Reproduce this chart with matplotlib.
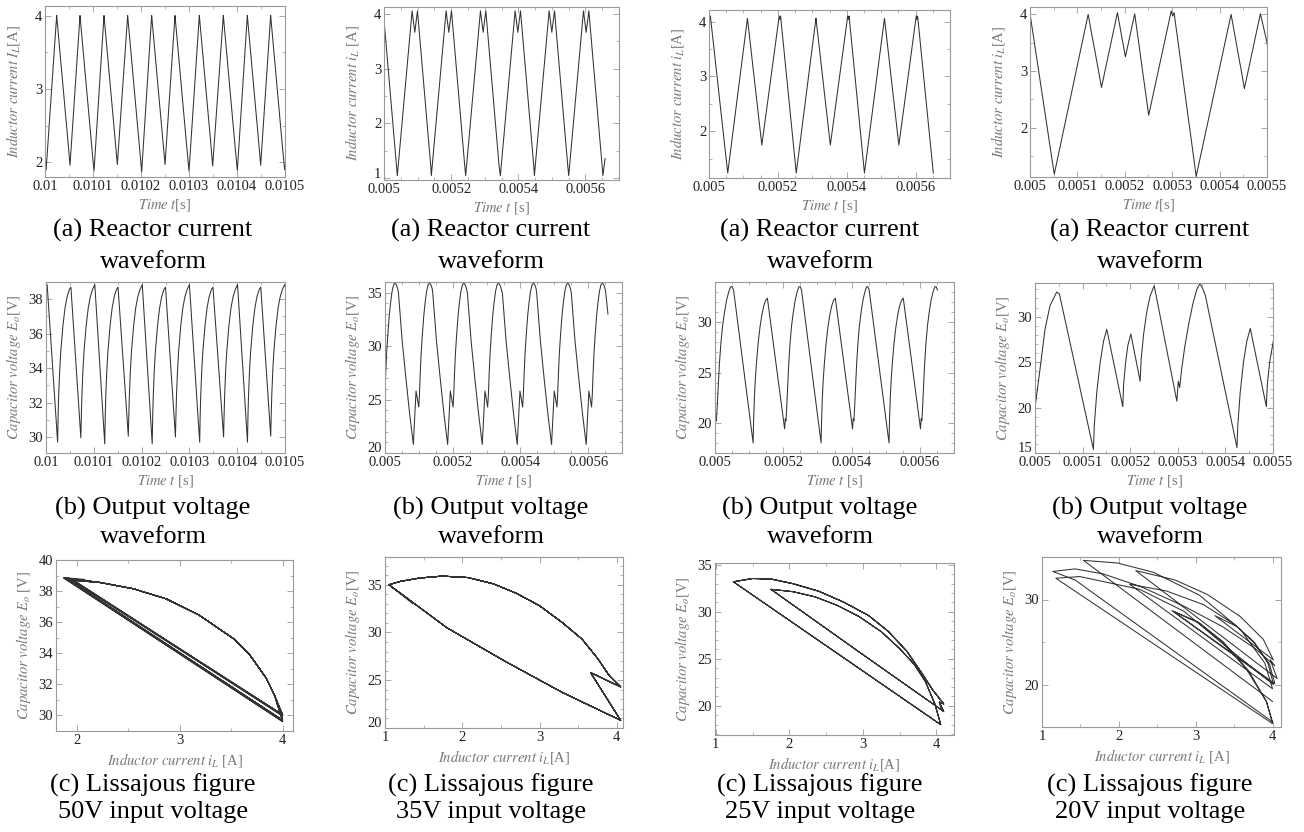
import numpy as np
import matplotlib.pyplot as plt
from matplotlib.ticker import MultipleLocator, FormatStrFormatter
from matplotlib.transforms import ScaledTranslation

plt.rcParams['font.family'] = 'Liberation Serif'
plt.rcParams['mathtext.fontset'] = 'stix'

# ---------- 50V input: time in us after 0.01 s ----------
c1_t0 = 0.01
c1_us = [0.0, 2.4,
         24.3, 25.4, 26.5, 28.7, 30.9, 35.4, 39.8, 44.2, 48.6, 52.1,
         72.9, 74.0, 75.1, 77.3, 79.5, 84.0, 88.4, 92.8, 97.2, 102.1,
         122.9, 124.0, 125.1, 127.3, 129.5, 134.0, 138.4, 142.8, 147.2, 150.7,
         172.2, 173.3, 174.4, 176.6, 178.8, 183.3, 187.7, 192.1, 196.5, 201.4,
         222.2, 223.3, 224.4, 226.6, 228.8, 233.3, 237.7, 242.1, 246.5, 250.0,
         270.8, 271.9, 273.0, 275.2, 277.4, 281.9, 286.3, 290.7, 295.1, 300.0,
         321.5, 322.6, 323.7, 325.9, 328.1, 332.6, 337.0, 341.4, 345.8, 349.3,
         371.5, 372.6, 373.7, 375.9, 378.1, 382.6, 387.0, 391.4, 395.8, 400.7,
         421.5, 422.6, 423.7, 425.9, 428.1, 432.6, 437.0, 441.4, 445.8, 449.3,
         470.1, 471.2, 472.3, 474.5, 476.7, 481.2, 485.6, 490.0, 494.4, 499.3,
         500.0]
c1_i = [2.08, 1.90,
        4.00, 3.92, 3.84, 3.68, 3.52, 3.19, 2.87, 2.55, 2.23, 1.96,
        4.00, 3.92, 3.84, 3.68, 3.52, 3.19, 2.87, 2.55, 2.23, 1.88,
        4.00, 3.92, 3.84, 3.68, 3.52, 3.19, 2.87, 2.55, 2.23, 1.97,
        4.00, 3.92, 3.84, 3.68, 3.52, 3.19, 2.87, 2.55, 2.23, 1.87,
        4.00, 3.92, 3.84, 3.68, 3.52, 3.19, 2.87, 2.55, 2.23, 1.97,
        4.00, 3.92, 3.84, 3.68, 3.52, 3.19, 2.87, 2.55, 2.23, 1.88,
        4.00, 3.92, 3.84, 3.68, 3.52, 3.19, 2.87, 2.55, 2.23, 1.95,
        4.00, 3.92, 3.84, 3.68, 3.52, 3.19, 2.87, 2.55, 2.23, 1.89,
        4.00, 3.92, 3.84, 3.68, 3.52, 3.19, 2.87, 2.55, 2.23, 1.96,
        4.00, 3.92, 3.84, 3.68, 3.52, 3.19, 2.87, 2.55, 2.23, 1.90,
        1.95]
c1_v = [38.75, 38.85,
        29.7, 31.3, 32.4, 33.9, 34.95, 36.45, 37.5, 38.15, 38.55, 38.7,
        29.95, 31.3, 32.4, 33.9, 34.95, 36.45, 37.5, 38.15, 38.55, 38.85,
        29.6, 31.3, 32.4, 33.9, 34.95, 36.45, 37.5, 38.15, 38.55, 38.7,
        30.05, 31.3, 32.4, 33.9, 34.95, 36.45, 37.5, 38.15, 38.55, 38.85,
        29.6, 31.3, 32.4, 33.9, 34.95, 36.45, 37.5, 38.15, 38.55, 38.7,
        30.0, 31.3, 32.4, 33.9, 34.95, 36.45, 37.5, 38.15, 38.55, 38.85,
        29.7, 31.3, 32.4, 33.9, 34.95, 36.45, 37.5, 38.15, 38.55, 38.7,
        30.0, 31.3, 32.4, 33.9, 34.95, 36.45, 37.5, 38.15, 38.55, 38.85,
        29.7, 31.3, 32.4, 33.9, 34.95, 36.45, 37.5, 38.15, 38.55, 38.7,
        30.05, 31.3, 32.4, 33.9, 34.95, 36.45, 37.5, 38.15, 38.55, 38.85,
        38.75]

# ---------- 35V input: time in us after 0.005 s ----------
c2_t0 = 0.005
c2_us = [0.0, 1.9, 4.7, 8.2, 12.4, 16.6, 20.8, 25.4, 30.0, 34.1, 37.6,
         39.7, 50.7, 61.7, 72.7, 83.7, 91.7, 99.7, 101.8, 103.9, 106.7, 110.2, 114.4, 118.6, 122.8, 127.4, 132.0, 136.1, 139.6,
         141.0, 152.0, 163.0, 174.0, 185.0, 193.0, 201.0, 203.1, 205.2, 208.0, 211.5, 215.7, 219.9, 224.1, 228.7, 233.3, 237.4, 240.9,
         243.3, 254.3, 265.3, 276.3, 287.3, 295.3, 303.3, 305.4, 307.5, 310.3, 313.8, 318.0, 322.2, 326.4, 331.0, 335.6, 339.7, 343.2,
         346.6, 357.6, 368.6, 379.6, 390.6, 398.6, 406.6, 408.7, 410.8, 413.6, 417.1, 421.3, 425.5, 429.7, 434.3, 438.9, 443.0, 446.5,
         447.9, 458.9, 469.9, 480.9, 491.9, 499.9, 507.9, 510.0, 512.1, 514.9, 518.4, 522.6, 526.8, 531.0, 535.6, 540.2, 544.3, 547.8,
         550.2, 561.2, 572.2, 583.2, 594.2, 602.2, 610.2, 612.3, 614.4, 617.2, 620.7, 624.9, 629.1, 633.3, 637.9, 642.5, 646.6, 650.1,
         652.0, 658.5]
c2_i = [3.92, 3.75, 3.55, 3.30, 3.00, 2.70, 2.40, 2.07, 1.74, 1.45, 1.20,
        1.05, 1.80, 2.55, 3.30, 4.05, 3.66, 4.05, 3.90, 3.75, 3.55, 3.30, 3.00, 2.70, 2.40, 2.07, 1.74, 1.45, 1.20,
        1.05, 1.80, 2.55, 3.30, 4.05, 3.66, 4.05, 3.90, 3.75, 3.55, 3.30, 3.00, 2.70, 2.40, 2.07, 1.74, 1.45, 1.20,
        1.05, 1.80, 2.55, 3.30, 4.05, 3.66, 4.05, 3.90, 3.75, 3.55, 3.30, 3.00, 2.70, 2.40, 2.07, 1.74, 1.45, 1.20,
        1.05, 1.80, 2.55, 3.30, 4.05, 3.66, 4.05, 3.90, 3.75, 3.55, 3.30, 3.00, 2.70, 2.40, 2.07, 1.74, 1.45, 1.20,
        1.05, 1.80, 2.55, 3.30, 4.05, 3.66, 4.05, 3.90, 3.75, 3.55, 3.30, 3.00, 2.70, 2.40, 2.07, 1.74, 1.45, 1.20,
        1.05, 1.80, 2.55, 3.30, 4.05, 3.66, 4.05, 3.90, 3.75, 3.55, 3.30, 3.00, 2.70, 2.40, 2.07, 1.74, 1.45, 1.20,
        1.05, 1.36]
c2_v = [25.3, 27.3, 29.3, 31.0, 32.8, 34.1, 35.1, 35.75, 35.9, 35.7, 35.35,
        35.0, 30.5, 27.0, 23.7, 20.8, 25.8, 24.3, 25.5, 27.3, 29.3, 31.0, 32.8, 34.1, 35.1, 35.75, 35.9, 35.7, 35.35,
        35.0, 30.5, 27.0, 23.7, 20.8, 25.8, 24.3, 25.5, 27.3, 29.3, 31.0, 32.8, 34.1, 35.1, 35.75, 35.9, 35.7, 35.35,
        35.0, 30.5, 27.0, 23.7, 20.8, 25.8, 24.3, 25.5, 27.3, 29.3, 31.0, 32.8, 34.1, 35.1, 35.75, 35.9, 35.7, 35.35,
        35.0, 30.5, 27.0, 23.7, 20.8, 25.8, 24.3, 25.5, 27.3, 29.3, 31.0, 32.8, 34.1, 35.1, 35.75, 35.9, 35.7, 35.35,
        35.0, 30.5, 27.0, 23.7, 20.8, 25.8, 24.3, 25.5, 27.3, 29.3, 31.0, 32.8, 34.1, 35.1, 35.75, 35.9, 35.7, 35.35,
        35.0, 30.5, 27.0, 23.7, 20.8, 25.8, 24.3, 25.5, 27.3, 29.3, 31.0, 32.8, 34.1, 35.1, 35.75, 35.9, 35.7, 35.35,
        35.0, 33.0]

# ---------- 25V input: time in us after 0.005 s ----------
c3_t0 = 0.005
c3_us = [0.0, 2.0, 4.0,
         6.6, 9.3, 12.8, 17.2, 22.0, 27.8, 33.9, 40.1, 45.4, 49.8, 54.4,
         83.0, 111.7,
         113.1, 115.5, 118.2, 121.8, 126.3, 131.7, 137.1, 142.6, 148.0, 153.4,
         178.6, 203.9, 205.9, 207.9,
         210.3, 212.7, 215.9, 219.8, 224.1, 229.4, 234.9, 240.5, 245.3, 249.3, 253.4,
         282.0, 310.7,
         312.1, 314.5, 317.2, 320.8, 325.3, 330.7, 336.1, 341.6, 347.0, 352.4,
         377.6, 402.9, 404.9, 406.9,
         409.2, 411.6, 414.7, 418.6, 422.8, 428.0, 433.4, 438.9, 443.6, 447.4, 451.5,
         480.6, 509.7,
         511.1, 513.5, 516.2, 519.8, 524.3, 529.7, 535.1, 540.6, 546.0, 551.4,
         576.7, 601.9, 603.9, 605.9,
         608.3, 610.7, 613.9, 617.8, 622.2, 627.4, 633.0, 638.6, 643.4, 647.4, 651.5]
c3_i = [4.06, 4.04, 4.10,
        3.95, 3.80, 3.60, 3.35, 3.08, 2.75, 2.40, 2.05, 1.75, 1.50, 1.24,
        2.65, 4.06,
        3.98, 3.85, 3.70, 3.50, 3.25, 2.95, 2.65, 2.35, 2.05, 1.75,
        2.92, 4.10, 4.04, 4.10,
        3.95, 3.80, 3.60, 3.35, 3.08, 2.75, 2.40, 2.05, 1.75, 1.50, 1.24,
        2.65, 4.06,
        3.98, 3.85, 3.70, 3.50, 3.25, 2.95, 2.65, 2.35, 2.05, 1.75,
        2.92, 4.10, 4.04, 4.10,
        3.95, 3.80, 3.60, 3.35, 3.08, 2.75, 2.40, 2.05, 1.75, 1.50, 1.24,
        2.65, 4.06,
        3.98, 3.85, 3.70, 3.50, 3.25, 2.95, 2.65, 2.35, 2.05, 1.75,
        2.92, 4.10, 4.04, 4.10,
        3.95, 3.80, 3.60, 3.35, 3.08, 2.75, 2.40, 2.05, 1.75, 1.50, 1.24]
c3_v = [19.8, 20.4, 20.2,
        21.7, 23.5, 25.8, 27.9, 29.6, 31.0, 32.2, 33.0, 33.5, 33.55, 33.2,
        25.6, 18.0,
        20.2, 22.6, 24.4, 26.1, 27.9, 29.5, 30.7, 31.6, 32.15, 32.4,
        25.9, 19.4, 20.4, 20.2,
        21.7, 23.5, 25.8, 27.9, 29.6, 31.0, 32.2, 33.0, 33.5, 33.55, 33.2,
        25.6, 18.0,
        20.2, 22.6, 24.4, 26.1, 27.9, 29.5, 30.7, 31.6, 32.15, 32.4,
        25.9, 19.4, 20.4, 20.2,
        21.7, 23.5, 25.8, 27.9, 29.6, 31.0, 32.2, 33.0, 33.5, 33.55, 33.2,
        25.6, 18.0,
        20.2, 22.6, 24.4, 26.1, 27.9, 29.5, 30.7, 31.6, 32.15, 32.4,
        25.9, 19.4, 20.4, 20.2,
        21.7, 23.5, 25.8, 27.9, 29.6, 31.0, 32.2, 33.0, 33.5, 33.55, 33.2]

# ---------- 20V input: time in us after 0.005 s ----------
c4_t0 = 0.005
c4_us = [0.0, 10.5, 21.0, 31.5, 45.5, 51.2,
         122.7, 124.5, 130.0, 137.0, 144.0, 150.8,
         184.4, 186.0, 190.0, 195.0, 201.3,
         220.9, 223.0, 228.0, 235.0, 242.0, 250.4,
         298.0, 301.0, 304.0, 308.0, 315.0, 323.0, 332.0, 340.0, 346.0, 350.6,
         358.0, 424.3, 426.0, 431.0, 438.0, 445.0, 452.3,
         486.0, 488.0, 493.0, 500.0,
         508.0, 518.0, 530.0, 577.0,
         579.0, 585.0, 595.0, 607.0, 617.0, 627.0, 690.0]
c4_i = [4.01, 3.43, 2.85, 2.27, 1.49, 1.18,
        4.00, 3.92, 3.66, 3.35, 3.03, 2.71,
        4.03, 3.96, 3.77, 3.54, 3.25,
        4.01, 3.88, 3.58, 3.15, 2.73, 2.22,
        4.06, 3.97, 4.03, 3.78, 3.35, 2.85, 2.29, 1.80, 1.43, 1.14,
        1.43, 4.00, 3.92, 3.69, 3.36, 3.04, 2.69,
        4.01, 3.94, 3.76, 3.50,
        3.10, 2.62, 2.14, 4.00,
        3.90, 3.58, 3.05, 2.45, 1.98, 1.54, 4.00]
c4_v = [20.0, 24.2, 28.6, 31.2, 32.7, 32.5,
        15.4, 18.0, 21.8, 25.0, 27.3, 28.6,
        20.1, 22.4, 24.8, 26.8, 28.1,
        22.9, 25.3, 28.0, 30.6, 32.3, 33.4,
        20.7, 22.9, 22.2, 24.2, 26.8, 29.2, 31.5, 33.0, 33.6, 33.3,
        32.3, 15.6, 18.0, 21.6, 25.0, 27.3, 28.7,
        20.1, 22.5, 25.0, 27.1,
        29.4, 31.0, 31.8, 19.5,
        22.5, 26.5, 30.5, 33.2, 34.3, 34.6, 18.0]

c1_xticks = [0.01, 0.0101, 0.0102, 0.0103, 0.0104, 0.0105]
c2_xticks = [0.005, 0.0052, 0.0054, 0.0056]
c4_xticks = [0.005, 0.0051, 0.0052, 0.0053, 0.0054, 0.0055]

captions = [
    ["(a) Reactor current", "waveform"],
    ["(b) Output voltage", "waveform"],
    ["(c) Lissajous figure", "{} input voltage"],
]
input_voltages = ["50V", "35V", "25V", "20V"]

W, H = 1304, 832
fig = plt.figure(figsize=(W / 100, H / 100), dpi=100)


def panel(box, x, y, xlim, ylim, xticks, yticks, xminor, yminor, xlabel, ylabel):
    x0, y0, x1, y1 = box
    ax = fig.add_axes([x0 / W, 1 - y1 / H, (x1 - x0) / W, (y1 - y0) / H])
    ax.plot(x, y, color='#333333', lw=0.75)
    ax.set_xlim(*xlim)
    ax.set_ylim(*ylim)
    ax.set_xticks(xticks)
    ax.set_yticks(yticks)
    ax.xaxis.set_minor_locator(MultipleLocator(xminor))
    ax.yaxis.set_minor_locator(MultipleLocator(yminor))
    ax.xaxis.set_major_formatter(FormatStrFormatter('%g'))
    ax.yaxis.set_major_formatter(FormatStrFormatter('%g'))
    ax.tick_params(which='both', direction='in', top=True, right=True,
                   color='#999999', labelsize=10.5, labelcolor='#222222', pad=2)
    ax.tick_params(which='major', length=4, width=0.6)
    ax.tick_params(which='minor', length=2, width=0.5)
    for s in ax.spines.values():
        s.set_color('#999999')
        s.set_linewidth(0.8)
    ax.set_xlabel(xlabel, fontsize=10.5, color='#777777')
    ax.set_ylabel(ylabel, fontsize=10.5, color='#777777')
    ax.xaxis.set_label_coords(0.5, -20 / (y1 - y0))
    ax.yaxis.set_label_coords(-23 / (x1 - x0), 0.5)
    # a y tick sitting on the bottom spine is lifted a little off the x labels
    if yticks[0] == ylim[0] or abs(yticks[0] - ylim[0]) < 0.05:
        lab = ax.yaxis.get_major_ticks()[0].label1
        lab.set_transform(lab.get_transform() + ScaledTranslation(0, 4 / 72, fig.dpi_scale_trans))
    return ax


iL_lab = r'$\mathit{Inductor\ current\ i_L}$'
Eo_lab = r'$\mathit{Capacitor\ voltage\ E_o}$'
t_lab = r'$\mathit{Time\ t}$'

cols = [
    (c1_t0, c1_us, c1_i, c1_v, (0.01, 0.0105), c1_xticks),
    (c2_t0, c2_us, c2_i, c2_v, (0.005, 0.0057), c2_xticks),
    (c3_t0, c3_us, c3_i, c3_v, (0.005, 0.0057), c2_xticks),
    (c4_t0, c4_us, c4_i, c4_v, (0.005, 0.0055), c4_xticks),
]

row1_box = [(45, 6, 285, 177), (384, 7, 619, 180), (709, 10, 950, 178), (1030, 7, 1267, 177)]
row2_box = [(46, 282, 285, 453), (385, 282, 622, 453), (715, 282, 954, 453), (1035, 283, 1273, 453)]
row3_box = [(56, 560, 293, 731), (385, 557, 623, 728), (715, 563, 954, 735), (1042, 557, 1281, 727)]

row1_ylim = [(1.8, 4.13), (0.97, 4.12), (1.15, 4.21), (1.13, 4.13)]
row1_yticks = [[2, 3, 4], [1, 2, 3, 4], [2, 3, 4], [2, 3, 4]]
row1_ylab = [r'$\mathit{Inductor\ current\ I_L}$[A]', iL_lab + ' [A]', iL_lab + '[A]', iL_lab + '[A]']
row1_xlab = [t_lab + '[s]', t_lab + ' [s]', t_lab + ' [s]', t_lab + '[s]']

row2_ylim = [(29.07, 39.0), (20.0, 36.0), (17.0, 34.0), (15.0, 33.7)]
row2_yticks = [[30, 32, 34, 36, 38], [20, 25, 30, 35], [20, 25, 30], [15, 20, 25, 30]]
row2_yminor = [1, 1, 1, 1]

row3_xlim = [(1.8, 4.1), (1.0, 4.08), (0.99, 4.24), (1.0, 4.11)]
row3_ylim = [(29.0, 40.0), (20.0, 37.9), (16.9, 35.2), (15.0, 35.0)]
row3_xticks = [[2, 3, 4], [1, 2, 3, 4], [1, 2, 3, 4], [1, 2, 3, 4]]
row3_yticks = [[30, 32, 34, 36, 38, 40], [20, 25, 30, 35], [20, 25, 30, 35], [20, 30]]
row3_yminor = [1, 1, 1, 5]
row3_ylab = [Eo_lab + ' [V]', Eo_lab + '[V]', Eo_lab + '[V]', Eo_lab + '[V]']
row3_xlab = [iL_lab + ' [A]', iL_lab + '[A]', iL_lab + '[A]', iL_lab + ' [A]']

cap_x = [153, 491, 820, 1150]
cap_y = [(230, 262), (508, 537), (785, 812)]

for k, (t0, us, cur, volt, xlim, xticks) in enumerate(cols):
    t = t0 + np.array(us) * 1e-6
    panel(row1_box[k], t, cur, xlim, row1_ylim[k], xticks, row1_yticks[k],
          0.00005, 0.5, row1_xlab[k], row1_ylab[k])
    panel(row2_box[k], t, volt, xlim, row2_ylim[k], xticks, row2_yticks[k],
          0.00005, row2_yminor[k], t_lab + ' [s]', Eo_lab + '[V]')
    panel(row3_box[k], cur, volt, row3_xlim[k], row3_ylim[k], row3_xticks[k], row3_yticks[k],
          0.5, row3_yminor[k], row3_xlab[k], row3_ylab[k])
    for r in range(3):
        line1, line2 = captions[r]
        fig.text(cap_x[k] / W, 1 - cap_y[r][0] / H, line1, ha='center', va='center', fontsize=19)
        fig.text(cap_x[k] / W, 1 - cap_y[r][1] / H, line2.format(input_voltages[k]),
                 ha='center', va='center', fontsize=19)

fig.savefig('out.png', dpi=100)
